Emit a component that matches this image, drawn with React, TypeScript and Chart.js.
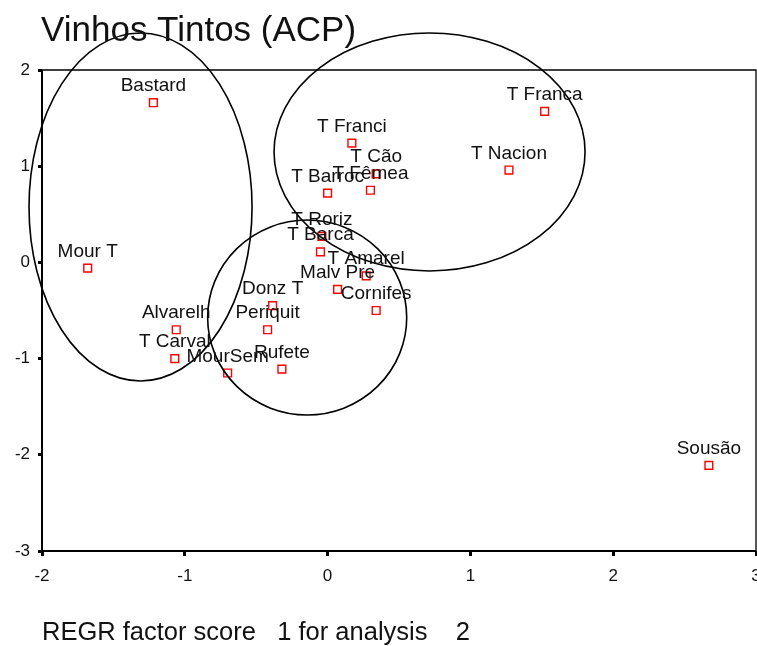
import React, { useEffect, useRef } from "react";
import { Chart, registerables } from "chart.js";

Chart.register(...registerables);

const FONT = "'Liberation Sans', Arial, Helvetica, sans-serif";

const chartTitle = "Vinhos Tintos (ACP)";
const xAxisTitle = "REGR factor score   1 for analysis    2";

const wineNames = [
  "Bastard", "Mour T", "Alvarelh", "T Carval", "MourSem", "Rufete", "Periquit",
  "Donz T", "T Barroc", "T Franci", "T Cão", "T Fêmea", "T Roriz", "T Barca",
  "T Amarel", "Malv Pre", "Cornifes", "T Franca", "T Nacion", "Sousão",
];
const factor1 = [
  -1.22, -1.68, -1.06, -1.07, -0.70, -0.32, -0.42,
  -0.385, 0.0, 0.17, 0.34, 0.30, -0.04, -0.05,
  0.27, 0.07, 0.34, 1.52, 1.27, 2.67,
];
const factor2 = [
  1.66, -0.06, -0.70, -1.00, -1.15, -1.11, -0.70,
  -0.45, 0.72, 1.24, 0.92, 0.75, 0.27, 0.11,
  -0.14, -0.28, -0.50, 1.57, 0.96, -2.11,
];

// cluster ellipses (data units)
const ellipseCx = [-1.31, 0.714, -0.143];
const ellipseCy = [0.576, 1.148, -0.573];
const ellipseRx = [0.781, 1.089, 0.697];
const ellipseRy = [1.809, 1.237, 1.013];

const xTicks = [-2, -1, 0, 1, 2, 3];
const yTicks = [-3, -2, -1, 0, 1, 2];

const decorPlugin = {
  id: "decor",
  afterDatasetsDraw(chart: any) {
    const { ctx, chartArea } = chart;
    const xs = chart.scales.x;
    const ys = chart.scales.y;
    ctx.save();
    // frame
    ctx.strokeStyle = "#000";
    ctx.lineWidth = 1.3;
    ctx.beginPath();
    ctx.moveTo(chartArea.left, chartArea.top);
    ctx.lineTo(chartArea.right, chartArea.top);
    ctx.lineTo(chartArea.right, chartArea.bottom);
    ctx.stroke();
    ctx.lineWidth = 2;
    ctx.beginPath();
    ctx.moveTo(chartArea.left, chartArea.top);
    ctx.lineTo(chartArea.left, chartArea.bottom);
    ctx.lineTo(chartArea.right, chartArea.bottom);
    ctx.stroke();

    // ellipses
    ctx.lineWidth = 1.6;
    for (let i = 0; i < ellipseCx.length; i++) {
      const cx = xs.getPixelForValue(ellipseCx[i]);
      const cy = ys.getPixelForValue(ellipseCy[i]);
      const rx = Math.abs(xs.getPixelForValue(ellipseCx[i] + ellipseRx[i]) - cx);
      const ry = Math.abs(ys.getPixelForValue(ellipseCy[i] + ellipseRy[i]) - cy);
      ctx.beginPath();
      ctx.ellipse(cx, cy, rx, ry, 0, 0, Math.PI * 2);
      ctx.stroke();
    }

    // point labels
    const meta = chart.getDatasetMeta(0);
    ctx.fillStyle = "#111";
    ctx.font = `19px ${FONT}`;
    ctx.textAlign = "center";
    ctx.textBaseline = "alphabetic";
    meta.data.forEach((pt: any, i: number) => {
      ctx.fillText(wineNames[i], pt.x, pt.y - 11.5);
    });
    ctx.restore();
  },
  afterDraw(chart: any) {
    const { ctx } = chart;
    ctx.save();
    ctx.fillStyle = "#111";
    ctx.font = `35px ${FONT}`;
    ctx.textAlign = "left";
    ctx.textBaseline = "alphabetic";
    ctx.fillText(chartTitle, 41, 41);
    ctx.restore();
  },
};

export default function App() {
  const canvasRef = useRef<HTMLCanvasElement | null>(null);

  useEffect(() => {
    if (!canvasRef.current) return;
    const chart = new Chart(canvasRef.current, {
      type: "scatter",
      data: {
        datasets: [
          {
            label: "wines",
            data: factor1.map((x, i) => ({ x, y: factor2[i] })),
            pointStyle: "rect",
            pointRadius: 5.5,
            pointHoverRadius: 5.5,
            pointBorderWidth: 1.4,
            borderColor: "#ff0000",
            backgroundColor: "rgba(0,0,0,0)",
            showLine: false,
          },
        ],
      },
      options: {
        animation: false,
        responsive: false,
        devicePixelRatio: 1,
        layout: {
          padding: { top: 70, left: 0, right: 1, bottom: 0 },
          autoPadding: false,
        } as any,
        plugins: {
          legend: { display: false },
          tooltip: { enabled: false },
          title: { display: false },
        },
        scales: {
          x: {
            type: "linear",
            min: -2,
            max: 3,
            afterFit: (s: any) => {
              s.height = 95;
              s.paddingLeft = 0;
              s.paddingRight = 0;
            },
            afterBuildTicks: (s: any) => {
              s.ticks = xTicks.map((v) => ({ value: v }));
            },
            ticks: {
              color: "#111",
              font: { family: FONT, size: 17 },
              padding: 10,
              maxRotation: 0,
              minRotation: 0,
              autoSkip: false,
            },
            grid: {
              drawOnChartArea: false,
              drawTicks: true,
              tickLength: 5,
              tickWidth: 3,
              tickColor: "#000",
            },
            border: { display: false },
            title: {
              display: true,
              text: xAxisTitle,
              align: "start",
              color: "#111",
              font: { family: FONT, size: 25.5, lineHeight: 1 },
              padding: 0,
            },
          },
          y: {
            type: "linear",
            min: -3,
            max: 2,
            afterFit: (s: any) => {
              s.width = 42;
              s.paddingTop = 0;
              s.paddingBottom = 0;
            },
            afterBuildTicks: (s: any) => {
              s.ticks = yTicks.map((v) => ({ value: v }));
            },
            ticks: {
              color: "#111",
              font: { family: FONT, size: 17 },
              padding: 8,
            },
            grid: {
              drawOnChartArea: false,
              drawTicks: true,
              tickLength: 4,
              tickWidth: 3,
              tickColor: "#000",
            },
            border: { display: false },
          },
        },
      },
      plugins: [decorPlugin],
    });
    return () => chart.destroy();
  }, []);

  return (
    <div style={{ position: "absolute", left: 0, top: 0, width: 757, height: 646, background: "#fff" }}>
      <canvas ref={canvasRef} width={757} height={646} style={{ display: "block" }} />
    </div>
  );
}
